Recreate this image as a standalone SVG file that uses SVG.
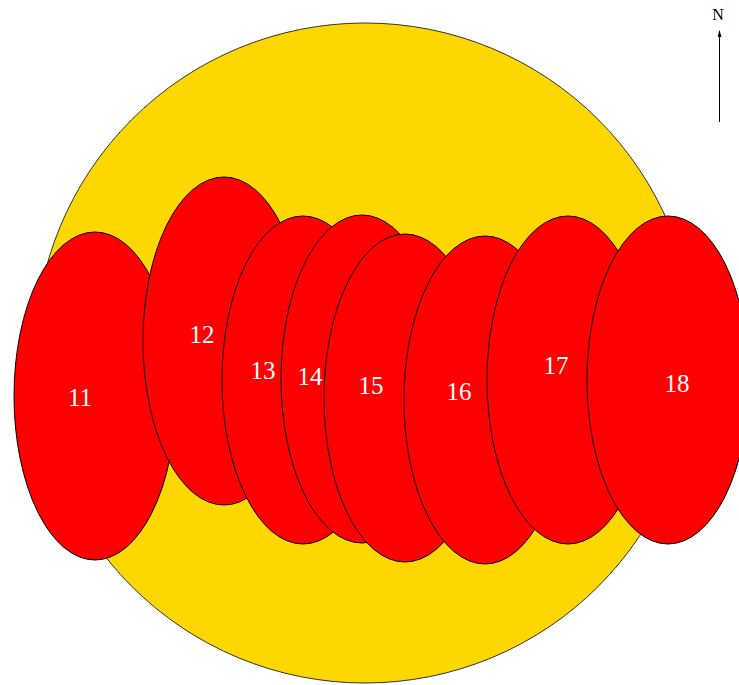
<svg xmlns="http://www.w3.org/2000/svg" width="739" height="685" viewBox="0 0 739 685">
<style>
.zone{fill:#FFD700;stroke:#333;stroke-width:1}
.lobe{fill:#FF0000;stroke:#000;stroke-width:1}
.lbl{font-family:"Liberation Serif",serif;font-size:25px;fill:#fff;text-anchor:middle}
.n{font-family:"Liberation Serif",serif;font-size:16px;fill:#000;text-anchor:middle}
</style>
<defs>
<marker id="ah" markerWidth="7" markerHeight="4" refX="6" refY="2" orient="auto" markerUnits="userSpaceOnUse">
<path d="M0,0 L7,2 L0,4 Z" fill="#000"/>
</marker>
</defs>
<rect width="739" height="685" fill="#fff"/>
<g id="area"><circle class="zone" cx="365" cy="353" r="330"/></g>
<g id="n11"><ellipse class="lobe" cx="95" cy="396" rx="81" ry="164"/><text class="lbl" x="80" y="406">11</text></g>
<g id="n12"><ellipse class="lobe" cx="224" cy="341" rx="81" ry="164"/><text class="lbl" x="202" y="343">12</text></g>
<g id="n13"><ellipse class="lobe" cx="303" cy="380" rx="81" ry="164"/><text class="lbl" x="263" y="379">13</text></g>
<g id="n14"><ellipse class="lobe" cx="362" cy="379" rx="81" ry="164"/><text class="lbl" x="310" y="385">14</text></g>
<g id="n15"><ellipse class="lobe" cx="405" cy="398" rx="81" ry="164"/><text class="lbl" x="371" y="394">15</text></g>
<g id="n16"><ellipse class="lobe" cx="485" cy="400" rx="81" ry="164"/><text class="lbl" x="459" y="400">16</text></g>
<g id="n17"><ellipse class="lobe" cx="568" cy="380" rx="81" ry="164"/><text class="lbl" x="556" y="374">17</text></g>
<g id="n18"><ellipse class="lobe" cx="668" cy="380" rx="81" ry="164"/><text class="lbl" x="677" y="392">18</text></g>
<g id="north">
<text class="n" x="718" y="20">N</text>
<line x1="719.5" y1="122" x2="719.5" y2="31" stroke="#000" stroke-width="1" marker-end="url(#ah)"/>
</g>
</svg>
